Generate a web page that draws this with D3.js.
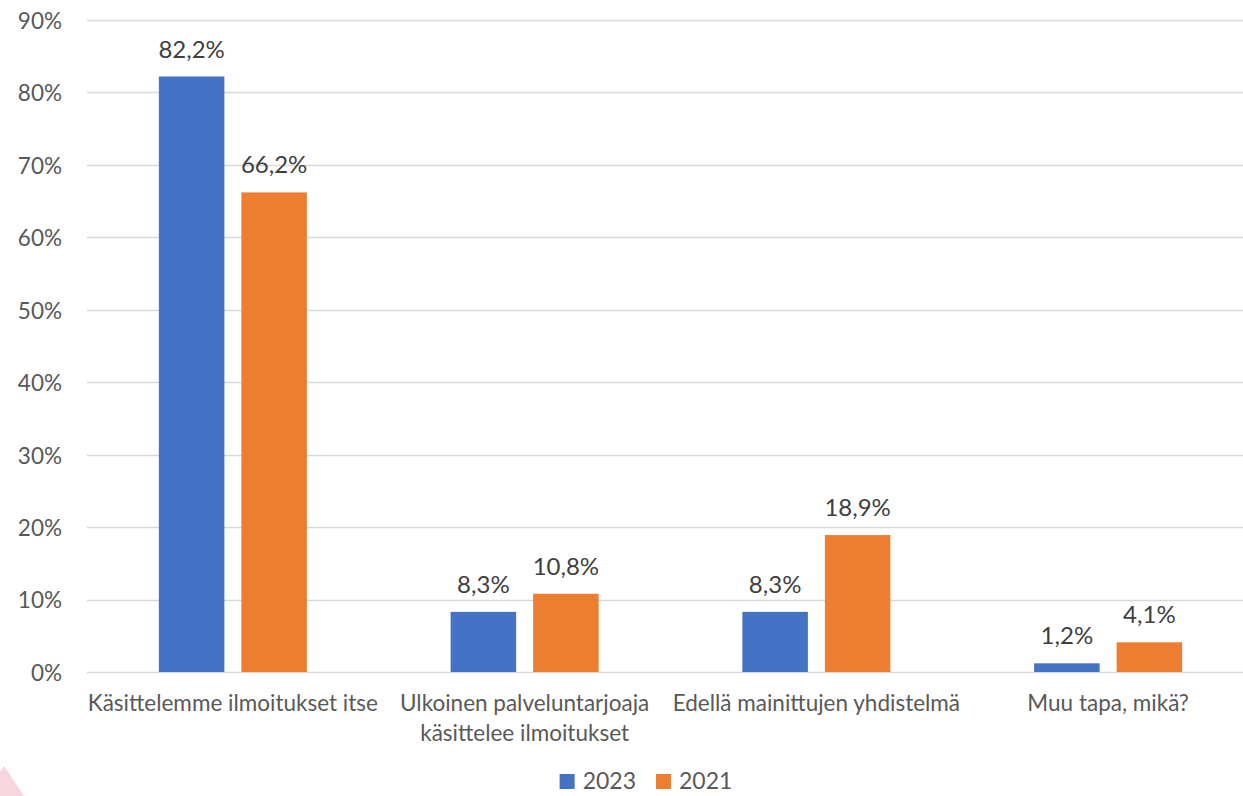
<!DOCTYPE html>
<html>
<head>
<meta charset="utf-8">
<script src="https://cdn.jsdelivr.net/npm/d3@7.9.0/dist/d3.min.js"></script>
<style>
  html, body { margin: 0; padding: 0; background: #fff; }
  svg { display: block; font-family: Lato, "Open Sans", sans-serif; }
</style>
</head>
<body>
<svg id="chart" width="1243" height="796"></svg>
<script>
const categories = [
  ["Käsittelemme ilmoitukset itse"],
  ["Ulkoinen palveluntarjoaja", "käsittelee ilmoitukset"],
  ["Edellä mainittujen yhdistelmä"],
  ["Muu tapa, mikä?"]
];
const series = ["2023", "2021"];
const values2023 = [82.2, 8.3, 8.3, 1.2];
const values2021 = [66.2, 10.8, 18.9, 4.1];
const yTicks = [0, 10, 20, 30, 40, 50, 60, 70, 80, 90];
const colors = ["#4472C4", "#ED7D31"];

const svg = d3.select("#chart");
const fmt = v => d3.format(".1f")(v).replace(".", ",") + "%";

const y = d3.scaleLinear().domain([0, 90]).range([672, 20]);
const x0 = d3.scaleBand().domain(d3.range(categories.length)).range([87, 1254]);
const x1 = d3.scaleBand().domain(series).range([0, x0.bandwidth()])
  .paddingInner(0.206).paddingOuter(0.871);
const color = d3.scaleOrdinal(series, colors);

// faint pink corner shape from the original screenshot
svg.append("path")
  .attr("d", "M0,772 L4,766 L24,796 L0,796 Z")
  .attr("fill", "#F7D6DD");

// gridlines
svg.append("g").selectAll("line")
  .data(yTicks)
  .join("line")
  .attr("x1", 87).attr("x2", 1243)
  .attr("y1", d => Math.round(y(d)) + 0.5).attr("y2", d => Math.round(y(d)) + 0.5)
  .attr("stroke", "#D9D9D9")
  .attr("stroke-width", 1.3);

// y tick labels
svg.append("g").selectAll("text")
  .data(yTicks)
  .join("text")
  .attr("x", 62)
  .attr("y", d => y(d) + 1)
  .attr("dy", "0.35em")
  .attr("text-anchor", "end")
  .attr("fill", "#595959")
  .attr("font-size", 22.5)
  .text(d => d + "%");

const rows = categories.map((c, i) => ({
  i,
  vals: [
    { key: "2023", v: values2023[i] },
    { key: "2021", v: values2021[i] }
  ]
}));

const groups = svg.append("g").selectAll("g")
  .data(rows)
  .join("g")
  .attr("transform", d => `translate(${x0(d.i)},0)`);

groups.selectAll("rect")
  .data(d => d.vals)
  .join("rect")
  .attr("x", d => x1(d.key))
  .attr("width", x1.bandwidth())
  .attr("y", d => y(d.v))
  .attr("height", d => y(0) - y(d.v))
  .attr("fill", d => color(d.key));

groups.selectAll("text.val")
  .data(d => d.vals)
  .join("text")
  .attr("class", "val")
  .attr("x", d => x1(d.key) + x1.bandwidth() / 2)
  .attr("y", d => y(d.v) - 19)
  .attr("text-anchor", "middle")
  .attr("fill", "#404040")
  .attr("font-size", 24)
  .text(d => fmt(d.v));

// category labels
const catLabels = svg.append("g").selectAll("text")
  .data(categories)
  .join("text")
  .attr("x", (d, i) => x0(i) + x0.bandwidth() / 2)
  .attr("y", 711)
  .attr("text-anchor", "middle")
  .attr("fill", "#595959")
  .attr("font-size", 22.5);
catLabels.selectAll("tspan")
  .data(d => d)
  .join("tspan")
  .attr("x", function () { return this.parentNode.getAttribute("x"); })
  .attr("dy", (d, j) => j === 0 ? 0 : 30)
  .text(d => d);

// legend
const legend = svg.append("g");
const items = legend.selectAll("g")
  .data(series)
  .join("g");
items.append("rect")
  .attr("width", 15).attr("height", 15)
  .attr("y", 774)
  .attr("fill", d => color(d));
items.append("text")
  .attr("x", 23)
  .attr("y", 789)
  .attr("fill", "#595959")
  .attr("font-size", 23)
  .text(d => d);
const widths = [];
items.each(function () { widths.push(this.getBBox().width); });
const gap = 20;
const total = d3.sum(widths) + gap * (widths.length - 1);
let start = 646 - total / 2;
items.attr("transform", (d, i) => {
  const t = `translate(${start},0)`;
  start += widths[i] + gap;
  return t;
});
</script>
</body>
</html>
